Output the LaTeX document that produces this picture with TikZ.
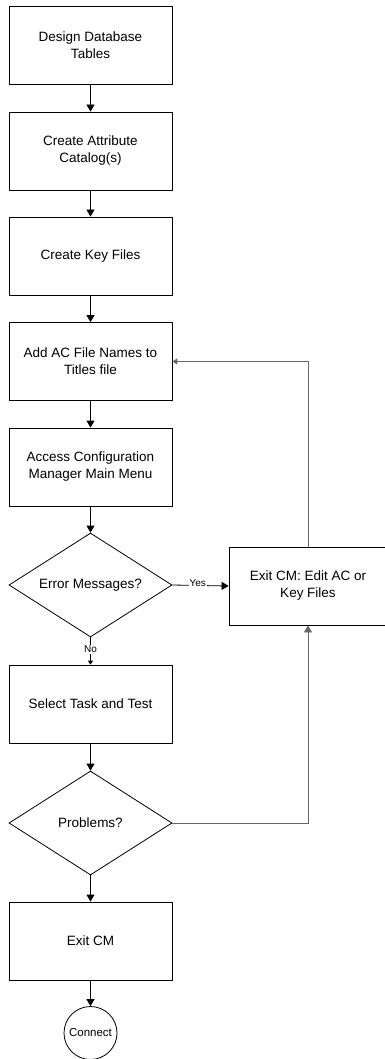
\documentclass[tikz,border=0pt]{standalone}
\usepackage{fontspec}
\setmainfont{Liberation Sans}
\usetikzlibrary{shapes.geometric,arrows.meta}
\begin{document}
\begin{tikzpicture}[x=1pt,y=-1pt,
  txt/.style={font=\fontsize{13.5}{17}\selectfont},
  box/.style={txt, draw=black, line width=0.8pt, minimum width=163pt, minimum height=78pt, align=center, inner sep=0pt},
  dec/.style={txt, diamond, draw=black, line width=0.8pt, minimum width=163pt, minimum height=104pt, aspect=1.57, inner sep=0pt},
  arr/.style={-{Triangle[length=7pt,width=8pt]}, line width=0.8pt},
  smallarr/.style={-{Triangle[length=4pt,width=5pt]}, line width=0.8pt},
  fb/.style={draw=black!60, line width=1pt},
  lab/.style={font=\fontsize{10}{12}\selectfont, fill=white, inner sep=1pt}
]
\useasboundingbox (0,0) rectangle (385,1059);
\node[box] (b1) at (90.5,45) {Design Database\\Tables};
\node[box] (b2) at (90.5,151) {Create Attribute\\Catalog(s)};
\node[box] (b3) at (90.5,256) {Create Key Files};
\node[box] (b4) at (90.5,361.5) {Add AC File Names to\\Titles file};
\node[box] (b5) at (90.5,467) {Access Configuration\\Manager Main Menu};
\node[dec] (d1) at (90.5,585) {Error Messages?};
\node[box] (b6) at (90.5,704) {Select Task and Test};
\node[dec] (d2) at (90.5,823) {Problems?};
\node[box] (b7) at (90.5,941) {Exit CM};
\node[draw=black, line width=0.8pt, circle, minimum size=53pt, inner sep=0pt, font=\fontsize{11.5}{13}\selectfont] (c) at (90.5,1033) {Connect};
\node[box, minimum width=158pt] (r) at (308,586) {Exit CM: Edit AC or\\Key Files};

\draw[arr] (b1.south) -- (b2.north);
\draw[arr] (b2.south) -- (b3.north);
\draw[arr] (b3.south) -- (b4.north);
\draw[arr] (b4.south) -- (b5.north);
\draw[arr] (b5.south) -- (d1.north);
\draw[smallarr] (d1.south) -- node[lab, pos=0.43] (no) {No} (b6.north);
\draw[arr] (d1.east) -- node[lab, pos=0.45, yshift=2pt] (yes) {Yes} (r.west);
\draw[arr] (b6.south) -- (d2.north);
\draw[arr] (d2.south) -- (b7.north);
\draw[arr] (b7.south) -- (c.north);
\draw[fb, arr, draw=black!60] (d2.east) -| (r.south);
\draw[fb, -{Triangle[length=5pt,width=6pt]}, draw=black!60] (r.north) |- (b4.east);
\end{tikzpicture}
\end{document}
